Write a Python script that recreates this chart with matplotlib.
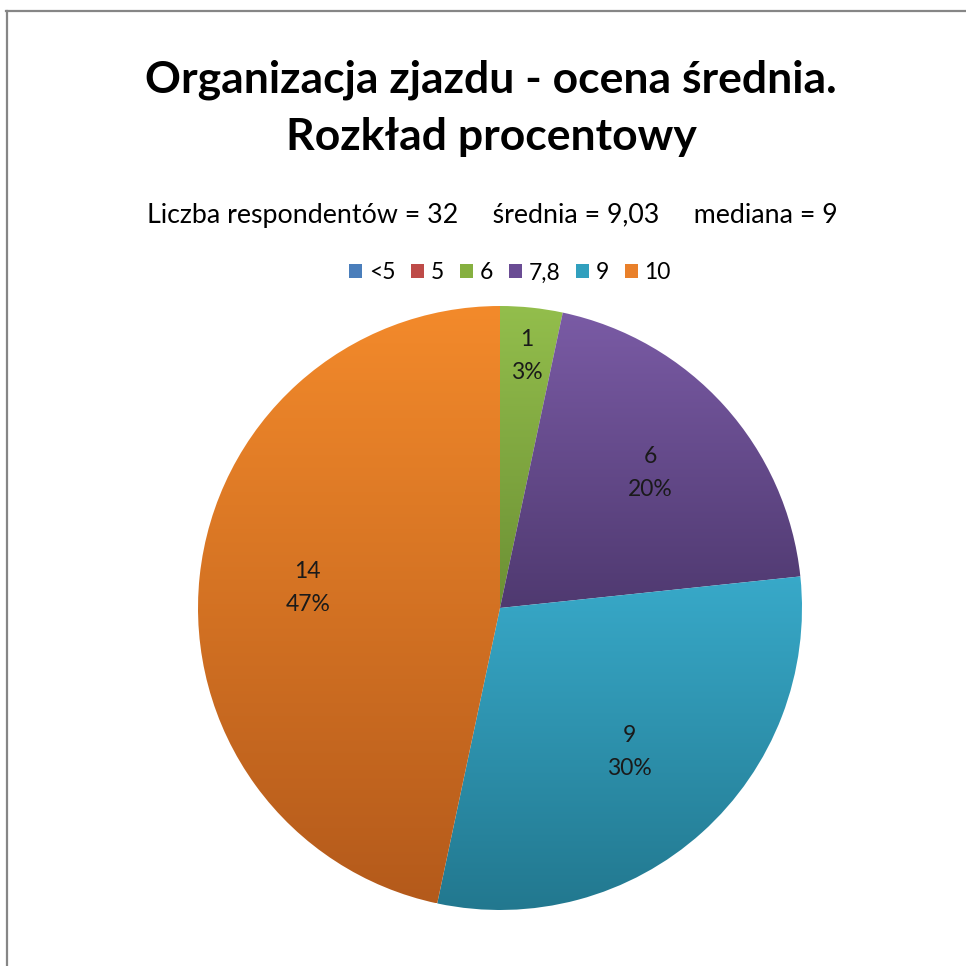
import numpy as np
import matplotlib
matplotlib.use("Agg")
import matplotlib.pyplot as plt
from matplotlib.patches import Patch
from matplotlib.lines import Line2D
from matplotlib.colors import LinearSegmentedColormap

categories = ["<5", "5", "6", "7,8", "9", "10"]
counts = [0, 0, 1, 6, 9, 14]
percent_labels = ["0%", "0%", "3%", "20%", "30%", "47%"]
title_lines = ["Organizacja zjazdu - ocena średnia.", "Rozkład procentowy"]
subtitle = "Liczba respondentów = 32     średnia = 9,03     mediana = 9"

top_colors = ["#5A8AC6", "#CB5552", "#93BE4C", "#7A5BA5", "#38A9C9", "#F38A2B"]
bot_colors = ["#3B6699", "#953735", "#6C9034", "#4F3970", "#22788F", "#B45A1B"]
legend_colors = ["#4A7EBB", "#BE4B48", "#86B040", "#6A4C94", "#31A0BE", "#E9802A"]
label_dist = [0.6, 0.6, 0.84, 0.67, 0.64, 0.64]

plt.rcParams['font.family'] = ['Lato', 'DejaVu Sans']

W = H = 966
fig = plt.figure(figsize=(9.66, 9.66), dpi=100)
fig.patch.set_facecolor('white')

cx, cy, R = 500, 608, 302
ax = fig.add_axes([(cx - R) / W, (H - cy - R) / H, 2 * R / W, 2 * R / H])
wedges, _ = ax.pie(counts, startangle=90, counterclock=False, radius=1,
                   wedgeprops=dict(linewidth=0))
ax.set_aspect('equal')
ax.axis('off')

grad = np.linspace(0, 1, 256).reshape(-1, 1)
for i, w in enumerate(wedges):
    if counts[i] == 0:
        continue
    ext = w.get_path().get_extents()
    cmap = LinearSegmentedColormap.from_list(f"g{i}", [bot_colors[i], top_colors[i]])
    im = ax.imshow(grad, cmap=cmap, origin='lower', aspect='auto',
                   extent=[ext.x0, ext.x1, ext.y0, ext.y1], zorder=1)
    im.set_clip_path(w)
    w.set_facecolor('none')
    mid = np.deg2rad((w.theta1 + w.theta2) / 2)
    d = label_dist[i]
    ax.text(d * np.cos(mid), d * np.sin(mid), f"{counts[i]}\n{percent_labels[i]}",
            ha='center', va='center', fontsize=16.5, color='#1a1a1a',
            linespacing=1.7, zorder=3)
ax.set_xlim(-1, 1)
ax.set_ylim(-1, 1)

fig.text(491 / W, 1 - 80 / H, title_lines[0], ha='center', va='center',
         fontsize=32, fontweight='bold', color='black')
fig.text(491 / W, 1 - 137 / H, title_lines[1], ha='center', va='center',
         fontsize=32, fontweight='bold', color='black')
fig.text(492 / W, 1 - 215 / H, subtitle, ha='center', va='center',
         fontsize=19.3, color='black')

handles = [Patch(facecolor=c, edgecolor='none') for c in legend_colors]
fig.legend(handles, categories, loc='center', bbox_to_anchor=(510 / W, 1 - 273 / H),
           ncol=6, frameon=False, fontsize=16.5, handlelength=0.55, handleheight=0.55,
           handletextpad=0.3, columnspacing=0.7)

fig.add_artist(Line2D([6 / W, 1], [1 - 11 / H, 1 - 11 / H], color='#868686', lw=1.6,
                      transform=fig.transFigure))
fig.add_artist(Line2D([7 / W, 7 / W], [0, 1 - 11 / H], color='#868686', lw=1.6,
                      transform=fig.transFigure))

fig.savefig("out.png", dpi=100)
